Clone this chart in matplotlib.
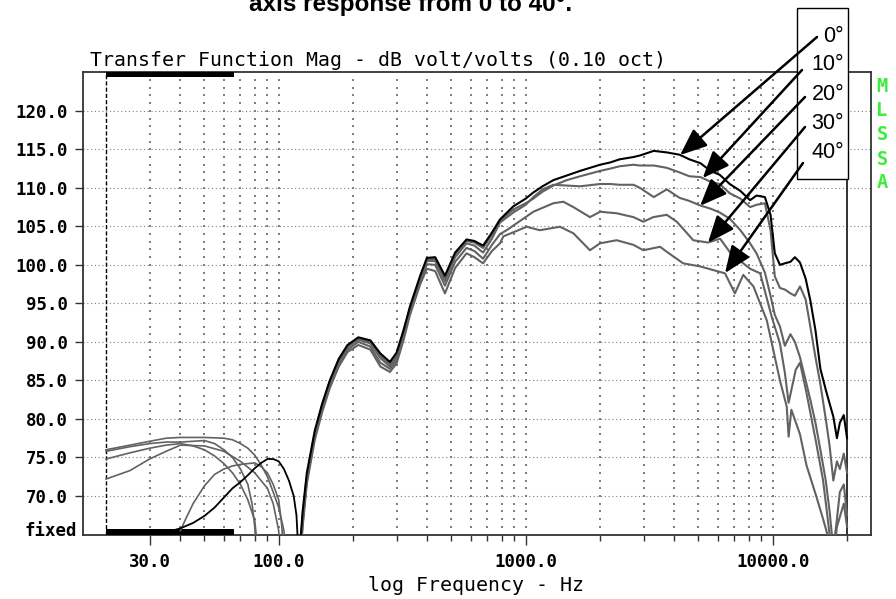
import matplotlib

matplotlib.use("Agg")

import matplotlib.pyplot as plt
import numpy as np
from matplotlib.patches import Rectangle

W, H = 896, 599

# ---- data ------------------------------------------------------------------
ANGLES = ["0°", "10°", "20°", "30°", "40°"]

# shared low/mid band (Hz)
MID_FREQ = [121, 125, 130, 140, 150, 161, 175, 190, 210, 235, 258, 282, 300,
            320, 340, 374, 398, 430, 471, 518, 576, 620, 672, 730]
MID_DB_0 = [62, 68, 73, 78.5, 82.0, 85.0, 87.8, 89.6, 90.6, 90.2, 88.5, 87.4,
            88.6, 91.5, 94.6, 98.6, 100.9, 101.0, 98.6, 101.6, 103.3, 103.1, 102.5, 104.2]
MID_DB_10 = [61, 67.5, 72.6, 78.2, 81.8, 84.8, 87.6, 89.5, 90.5, 90.0, 88.2, 87.1,
             88.3, 91.3, 94.4, 98.4, 100.7, 100.8, 98.3, 101.4, 103.1, 102.9, 102.2, 103.9]
MID_DB_20 = [60.5, 67, 72.3, 78, 81.6, 84.6, 87.4, 89.3, 90.3, 89.8, 87.9, 86.8,
             88.0, 91.0, 94.2, 98.2, 100.5, 100.5, 97.9, 101.0, 102.8, 102.5, 101.6, 103.4]
MID_DB_30 = [60, 66.5, 72, 77.7, 81.3, 84.3, 87.1, 89.0, 90.0, 89.4, 87.3, 86.5,
             87.6, 90.6, 93.9, 97.9, 100.1, 100.0, 97.3, 100.4, 102.2, 101.8, 100.8, 102.6]
MID_DB_40 = [59.5, 66, 71.6, 77.3, 80.9, 84.0, 86.8, 88.7, 89.6, 89.0, 86.8, 86.1,
             87.2, 90.2, 93.5, 97.5, 99.5, 99.2, 96.3, 99.6, 101.5, 101.0, 100.2, 101.8]

# high band, one frequency list per angle
HF_FREQ_0 = [787, 891, 1000, 1074, 1170, 1294, 1466, 1660, 2000, 2200, 2400, 2730,
             2900, 3300, 3725, 4200, 4600, 5100, 5600, 6100, 6700, 7400, 8100, 8600,
             9300, 9800, 10200, 10700, 11200, 11800, 12300, 12900, 13600, 14200,
             14900, 15600, 16400, 17000, 17600, 18200, 18700, 19400, 20000]
HF_DB_0 = [105.9, 107.6, 108.6, 109.4, 110.2, 111.0, 111.6, 112.2, 113.0, 113.3,
           113.7, 114.0, 114.2, 114.8, 114.6, 114.3, 113.7, 113.2, 112.2, 111.7,
           110.5, 109.6, 108.4, 109.0, 108.8, 106.5, 101.5, 100.0, 100.2, 100.4,
           101.0, 100.3, 98.2, 95.4, 91.5, 86.5, 83.8, 82.0, 80.3, 77.5, 79.5, 80.5, 77.5]

HF_FREQ_10 = HF_FREQ_0
HF_DB_10 = [105.7, 107.2, 108.0, 108.6, 109.5, 110.3, 111.0, 111.5, 112.2, 112.5,
            112.8, 113.0, 112.9, 112.9, 112.6, 112.0, 111.5, 111.4, 110.8, 110.5,
            109.3, 108.6, 107.5, 107.8, 108.0, 104.5, 98.5, 97.0, 96.8, 96.3,
            96.0, 97.2, 95.5, 92.0, 88.0, 84.5, 80.0, 76.5, 72.0, 74.5, 73.5, 75.5, 73.0]

HF_FREQ_20 = HF_FREQ_0
HF_DB_20 = [105.5, 106.8, 107.8, 108.8, 109.8, 110.4, 110.3, 110.2, 110.5, 110.5,
            110.4, 110.4, 110.0, 108.8, 109.8, 108.7, 108.3, 107.7, 107.3, 106.8,
            106.0, 104.5, 102.8, 101.5, 99.0, 96.0, 93.5, 92.0, 89.5, 91.0,
            90.0, 88.0, 85.0, 82.5, 79.5, 76.0, 72.0, 68.0, 63.0, 67.0, 70.5, 71.5, 67.5]

HF_FREQ_30 = [787, 837, 1074, 1294, 1420, 1560, 1820, 2000, 2335, 2730, 2995, 3285,
              3725, 4090, 4770, 5470, 6125, 6940, 7400, 8100, 8900, 9900, 10700,
              11200, 11600, 12400, 12900, 13700, 15000, 16000, 17000, 17600, 18200,
              19400, 20000]
HF_DB_30 = [104.0, 104.5, 106.9, 108.0, 108.2, 107.5, 106.2, 106.9, 106.7, 106.2,
            105.6, 106.2, 106.5, 105.6, 103.2, 102.9, 103.4, 101.0, 100.5, 99.5,
            98.9, 93.3, 89.8, 86.0, 82.1, 86.4, 87.3, 83.4, 76.9, 72.0, 65.0,
            62.0, 66.0, 69.0, 66.0]

HF_FREQ_40 = [787, 812, 1010, 1140, 1377, 1560, 1820, 2000, 2335, 2730, 2995, 3500,
              3725, 4340, 5083, 6412, 7030, 7600, 8360, 9465, 10700, 11400, 11600,
              11900, 12900, 13700, 15000, 16000, 17000, 18000]
HF_DB_40 = [102.8, 103.7, 104.95, 104.5, 104.95, 104.1, 101.9, 102.8, 103.2, 102.6,
            101.9, 102.35, 101.7, 100.2, 99.8, 98.9, 96.3, 98.7, 97.2, 92.8, 85.0,
            81.6, 77.7, 81.2, 78.0, 74.0, 70.0, 67.0, 64.0, 60.0]

# low frequency traces below ~120 Hz (gray ones first, black last)
LF_FREQ_A = [20, 25, 30, 35, 40, 50, 60, 65, 70, 75, 80, 85, 90, 95, 100, 105, 108]
LF_DB_A = [76.0, 76.6, 77.1, 77.5, 77.6, 77.6, 77.5, 77.3, 76.8, 76.2, 75.3, 74.0,
           72.5, 70.5, 68.5, 65.5, 60.0]
LF_FREQ_B = [20, 25, 30, 35, 40, 45, 50, 55, 60, 65, 70, 75, 78, 80, 82]
LF_DB_B = [75.8, 76.4, 76.8, 77.0, 77.0, 77.1, 77.2, 76.8, 76.0, 75.0, 73.5, 71.5,
           69.0, 66.0, 60.0]
LF_FREQ_C = [20, 25, 30, 35, 40, 45, 50, 55, 60, 65, 70, 75, 80, 84]
LF_DB_C = [74.8, 75.6, 76.2, 76.6, 76.8, 76.5, 76.0, 75.2, 74.2, 73.0, 71.5, 69.5,
           66.8, 60.0]
LF_FREQ_D = [20, 25, 30, 35, 40, 50, 60, 70, 80, 90, 95, 100, 102]
LF_DB_D = [72.2, 73.3, 74.8, 75.8, 76.6, 76.5, 75.8, 74.5, 73.0, 71.0, 69.0, 65.5, 60.0]
LF_FREQ_E = [40, 42, 45, 50, 55, 60, 65, 70, 80, 85, 90, 95, 100, 103, 105]
LF_DB_E = [65.5, 67.0, 69.0, 71.3, 72.8, 73.5, 73.9, 74.1, 74.3, 73.8, 73.0, 71.5,
           69.5, 66.0, 60.0]
LF_FREQ_0 = [35, 38, 40, 45, 50, 55, 60, 65, 70, 75, 80, 85, 90, 95, 100, 105, 110,
             115, 118, 120]
LF_DB_0 = [65.3, 65.6, 65.8, 66.5, 67.4, 68.5, 69.8, 71.0, 71.8, 72.7, 73.6, 74.3,
           74.8, 74.8, 74.5, 73.5, 72.0, 70.0, 67.5, 63.0]

# arrow tips on the curves (Hz, dB) and where each arrow leaves the label box (px)
ARROW_TIP_FREQ = [4215, 5208, 5083, 5470, 6412]
ARROW_TIP_DB = [114.25, 111.27, 107.67, 102.87, 98.94]
ARROW_START_PX = [(817, 37), (802, 70), (805, 97), (805, 127), (803, 163)]
LABEL_Y_PX = [36, 65, 94, 123, 152]

Y_TICKS = [70, 75, 80, 85, 90, 95, 100, 105, 110, 115, 120]
X_MAJOR = [30, 100, 1000, 10000]
X_MAJOR_LABELS = ["30.0", "100.0", "1000.0", "10000.0"]
X_MINOR = [40, 50, 60, 70, 80, 90, 200, 300, 400, 500, 600, 700, 800, 900,
           2000, 3000, 4000, 5000, 6000, 7000, 8000, 9000, 20000]
GRID_FREQ = [30, 40, 50, 60, 70, 80, 90, 100, 200, 300, 400, 500, 600, 700, 800,
             900, 1000, 2000, 3000, 4000, 5000, 6000, 7000, 8000, 9000, 10000]

GRAY = "#626262"
MONO = "DejaVu Sans Mono"


def fig_px(x, y):
    return x / W, 1 - y / H


def main() -> None:
    fig = plt.figure(figsize=(W / 100, H / 100), dpi=100)
    ax = fig.add_axes([83 / W, (H - 534.5) / H, 787.7 / W, 462.2 / H])
    ax.set_xscale("log")
    ax.set_xlim(16.13, 24935)
    ax.set_ylim(65, 125)

    # grid: dotted rows every 5 dB, dotted columns made of 1 dB dots
    for level in Y_TICKS:
        ax.axhline(level, color="#808080", lw=0.8, ls=(0, (1, 2.4)), zorder=1)
    gx, gy = np.meshgrid(GRID_FREQ, np.arange(66, 125))
    ax.scatter(gx.ravel(), gy.ravel(), s=1.0, marker="s", color="#808080",
               linewidths=0, zorder=1)

    ax.axvline(20, color="black", lw=1.0, ls=(0, (3, 1.5)), zorder=2)
    ax.axvline(20000, color="#222222", lw=1.3, zorder=2)
    ax.fill_between([20, 66.2], 65, 65.65, color="black", lw=0, zorder=3)
    ax.fill_between([20, 66.2], 124.35, 125, color="black", lw=0, zorder=3)

    for fr, db in [(LF_FREQ_A, LF_DB_A), (LF_FREQ_B, LF_DB_B), (LF_FREQ_C, LF_DB_C),
                   (LF_FREQ_D, LF_DB_D), (LF_FREQ_E, LF_DB_E)]:
        ax.plot(fr, db, color=GRAY, lw=1.2, zorder=4)
    ax.plot(LF_FREQ_0, LF_DB_0, color="black", lw=1.3, zorder=5)

    curves = [
        (MID_DB_40, HF_FREQ_40, HF_DB_40, GRAY),
        (MID_DB_30, HF_FREQ_30, HF_DB_30, GRAY),
        (MID_DB_20, HF_FREQ_20, HF_DB_20, GRAY),
        (MID_DB_10, HF_FREQ_10, HF_DB_10, GRAY),
        (MID_DB_0, HF_FREQ_0, HF_DB_0, "black"),
    ]
    for mid_db, hf_freq, hf_db, color in curves:
        ax.plot(MID_FREQ + hf_freq, mid_db + hf_db, color=color, lw=1.5, zorder=5)

    for side in ["left", "right", "top", "bottom"]:
        ax.spines[side].set_color("#333333")
        ax.spines[side].set_linewidth(1.3)

    ax.set_yticks(Y_TICKS)
    ax.set_yticklabels([f"{v:.1f}" for v in Y_TICKS], family=MONO,
                       fontweight="bold", fontsize=12.5)
    ax.set_xticks(X_MAJOR)
    ax.set_xticklabels(X_MAJOR_LABELS, family=MONO, fontweight="bold", fontsize=12.5)
    ax.set_xticks(X_MINOR, minor=True)
    ax.set_xticklabels([], minor=True)
    ax.tick_params(axis="y", length=6, width=1, color="#333333", pad=5)
    ax.tick_params(axis="x", which="major", length=7.5, width=1, color="#333333", pad=6)
    ax.tick_params(axis="x", which="minor", length=4.5, width=1, color="#333333")
    ax.text(-0.007, 65.5, "fixed", transform=ax.get_yaxis_transform(),
            ha="right", va="center", family=MONO, fontweight="bold", fontsize=12.5)

    fig.text(*fig_px(90, 66), "Transfer Function Mag - dB volt/volts (0.10 oct)",
             family=MONO, fontsize=14.3, va="baseline", ha="left")
    fig.text(*fig_px(476, 591), "log Frequency - Hz", family=MONO, fontsize=14.3,
             va="baseline", ha="center")
    fig.text(*fig_px(411, 11), "axis response from 0 to 40°.", family="Liberation Sans",
             fontweight="bold", fontsize=17.5, va="baseline", ha="center")

    for i, letter in enumerate("MLSSA"):
        fig.text(*fig_px(882, 87 + 24 * i), letter, family=MONO, fontweight="bold",
                 fontsize=13.5, color="#3ded3d", ha="center", va="center")

    # label box with arrows to each curve
    box = Rectangle(fig_px(797, 179), 51 / W, 171 / H, transform=fig.transFigure,
                    facecolor="white", edgecolor="black", lw=1.0, clip_on=False,
                    zorder=8)
    ax.add_patch(box)
    for label, y in zip(ANGLES, LABEL_Y_PX):
        ax.text(*fig_px(844, y), label, transform=fig.transFigure, ha="right",
                va="center", family="Liberation Sans", fontsize=15.5, zorder=9)
    for f, db, (sx, sy) in zip(ARROW_TIP_FREQ, ARROW_TIP_DB, ARROW_START_PX):
        ax.annotate("", xy=(f, db), xycoords="data", xytext=(sx, H - sy),
                    textcoords="figure pixels", annotation_clip=False, zorder=10,
                    arrowprops=dict(arrowstyle="-|>,head_length=1.1,head_width=0.45",
                                    color="black", lw=1.8, shrinkA=0, shrinkB=0,
                                    mutation_scale=15))

    fig.savefig("out.png", dpi=100)
    plt.close(fig)


if __name__ == "__main__":
    main()
